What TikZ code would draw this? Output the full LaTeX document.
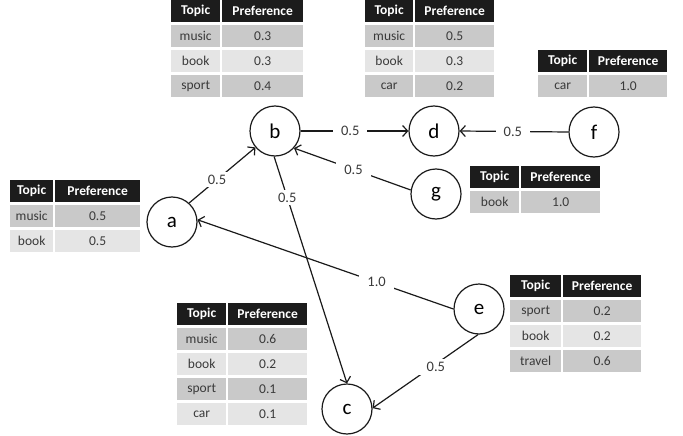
\documentclass[tikz,border=0pt]{standalone}
\usepackage{fontspec}
\setmainfont{Carlito}
\usetikzlibrary{arrows.meta}

\definecolor{hdrblack}{HTML}{1C1C1C}
\definecolor{rowdark}{HTML}{C9C9C9}
\definecolor{rowlight}{HTML}{E5E5E5}
\definecolor{celltext}{HTML}{3A3A3A}
\definecolor{inkline}{HTML}{1A1A1A}

\tikzset{
  hdr/.style={fill=hdrblack, text=white, font=\bfseries\fontsize{13.5}{14}\selectfont,
    minimum height=22pt, inner sep=0pt, anchor=north west},
  cell/.style={text=celltext, font=\fontsize{13.5}{14}\selectfont,
    minimum height=22pt, inner sep=0pt, anchor=north west},
  user/.style={circle, draw=inkline, line width=1.2pt, minimum size=50pt, inner sep=0pt,
    font=\fontsize{21}{22}\selectfont},
  link/.style={draw=inkline, line width=1.2pt, -{Straight Barb[length=5pt,width=11pt,line width=1.2pt]}},
  wlabel/.style={fill=white, text=celltext, font=\fontsize{14.5}{15}\selectfont,
    inner xsep=8pt, inner ysep=3pt}
}

% #1 name, #2 left, #3 top, #4 topic column width, #5 value column width, #6 rows topic/value
\newcommand{\preftable}[6]{%
  \node[hdr, minimum width=#4pt] (#1-h1) at (#2,#3) {Topic};
  \node[hdr, minimum width=#5pt] (#1-h2) at (#2+#4+2,#3) {Preference};
  \foreach \t/\v [count=\i] in {#6}{%
    \pgfmathtruncatemacro\rowtop{#3+25*\i}%
    \ifodd\i \def\rowcol{rowdark}\else \def\rowcol{rowlight}\fi
    \node[cell, fill=\rowcol, minimum width=#4pt] (#1-\i-t) at (#2,\rowtop) {\t};
    \node[cell, fill=\rowcol, minimum width=#5pt] (#1-\i-v) at (#2+#4+2,\rowtop) {\v};
  }%
}

\begin{document}
\begin{tikzpicture}[x=1pt, y=-1pt]
  \useasboundingbox (0,0) rectangle (683,436);

  % preference tables
  \preftable{tb}{171}{0}{49}{81}{music/0.3, book/0.3, sport/0.4}
  \preftable{td}{365}{0}{48}{79}{music/0.5, book/0.3, car/0.2}
  \preftable{tf}{538}{50}{49}{78}{car/1.0}
  \preftable{ta}{10}{180}{43}{85}{music/0.5, book/0.5}
  \preftable{tg}{470}{166}{49}{79}{book/1.0}
  \preftable{tc}{177}{303}{49}{79}{music/0.6, book/0.2, sport/0.1, car/0.1}
  \preftable{te}{510}{275}{51}{78}{sport/0.2, book/0.2, travel/0.6}

  % users
  \node[user] (a) at (172,222) {a};
  \node[user] (b) at (275,131) {b};
  \node[user] (c) at (347,409) {c};
  \node[user] (d) at (434,131) {d};
  \node[user] (e) at (479,309) {e};
  \node[user] (f) at (594,132) {f};
  \node[user] (g) at (436,194) {g};

  % weighted links
  \draw[link] (b.east) -- node[wlabel, pos=0.46] {0.5} (d.west);
  \draw[link] (f.west) -- node[wlabel, pos=0.51] {0.5} (d.east);
  \draw[link] (g.171) -- node[wlabel, pos=0.49] {0.5} (b.-42);
  \draw[link] (a.48) -- node[wlabel, pos=0.42] {0.5} (b.220);
  \draw[link] (b.-92) -- node[wlabel, pos=0.18] {0.5} (c.north);
  \draw[link] (e.west) -- node[wlabel, pos=0.30] {1.0} (a.5);
  \draw[link] (e.-92) -- node[wlabel, pos=0.40, yshift=-3pt] {0.5} (c.2);
\end{tikzpicture}
\end{document}
